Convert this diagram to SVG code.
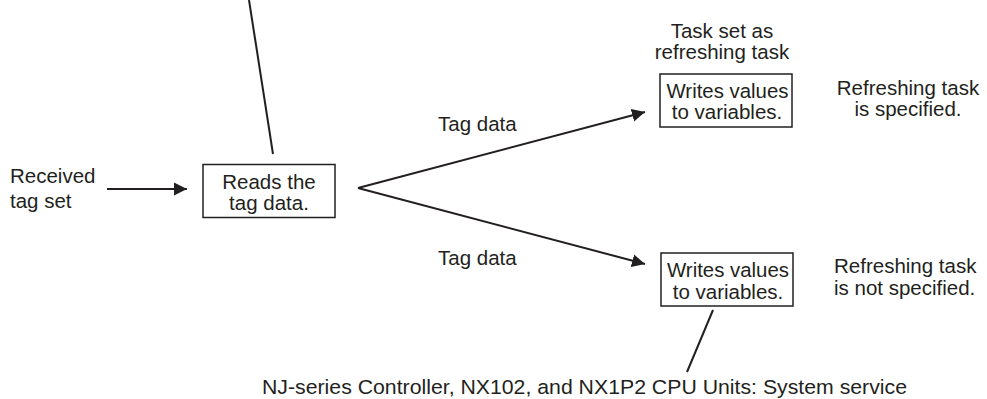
<svg xmlns="http://www.w3.org/2000/svg" width="987" height="399" viewBox="0 0 987 399">
<style>
text { font-family: "Liberation Sans", Arial, sans-serif; font-size: 20.5px; fill: #231f20; }
.c { text-anchor: middle; }
.box { fill: #fff; stroke: #231f20; stroke-width: 1.5; }
.ln { stroke: #231f20; stroke-width: 2; fill: none; }
</style>
<defs>
<marker id="ah" markerUnits="userSpaceOnUse" markerWidth="14" markerHeight="14" viewBox="0 0 14 14" refX="13" refY="7" orient="auto">
<path d="M0,0.5 L13,7 L0,13.5 Z" fill="#231f20"/>
</marker>
</defs>
<g id="connectors">
<line class="ln" x1="249" y1="0" x2="273" y2="154"/>
<line class="ln" x1="107" y1="189" x2="187" y2="189" marker-end="url(#ah)"/>
<line class="ln" x1="358" y1="188" x2="645" y2="112" marker-end="url(#ah)"/>
<line class="ln" x1="358" y1="188" x2="645" y2="264" marker-end="url(#ah)"/>
<line class="ln" x1="713" y1="310" x2="687" y2="372"/>
</g>
<g id="received">
<text x="10" y="183">Received</text>
<text x="10" y="208">tag set</text>
</g>
<g id="reads">
<rect class="box" x="203" y="164.5" width="132" height="53"/>
<text class="c" x="269" y="189">Reads the</text>
<text class="c" x="269" y="210">tag data.</text>
</g>
<g id="label-tag-upper">
<text x="438" y="131">Tag data</text>
</g>
<g id="label-tag-lower">
<text x="438" y="265">Tag data</text>
</g>
<g id="task-set">
<text class="c" x="722" y="38">Task set as</text>
<text class="c" x="722" y="58.5">refreshing task</text>
</g>
<g id="writes-upper">
<rect class="box" x="660" y="74" width="132" height="53"/>
<text class="c" x="727.5" y="98" textLength="122" lengthAdjust="spacingAndGlyphs">Writes values</text>
<text class="c" x="727" y="118.5">to variables.</text>
</g>
<g id="note-specified">
<text class="c" x="908" y="95">Refreshing task</text>
<text class="c" x="908" y="115.5">is specified.</text>
</g>
<g id="writes-lower">
<rect class="box" x="661" y="253" width="132" height="53"/>
<text class="c" x="728" y="277" textLength="122" lengthAdjust="spacingAndGlyphs">Writes values</text>
<text class="c" x="728" y="298.5">to variables.</text>
</g>
<g id="note-not-specified">
<text x="834" y="273">Refreshing task</text>
<text x="834" y="295">is not specified.</text>
</g>
<g id="system-service">
<text x="262" y="394" textLength="645" lengthAdjust="spacingAndGlyphs">NJ-series Controller, NX102, and NX1P2 CPU Units: System service</text>
</g>
</svg>
